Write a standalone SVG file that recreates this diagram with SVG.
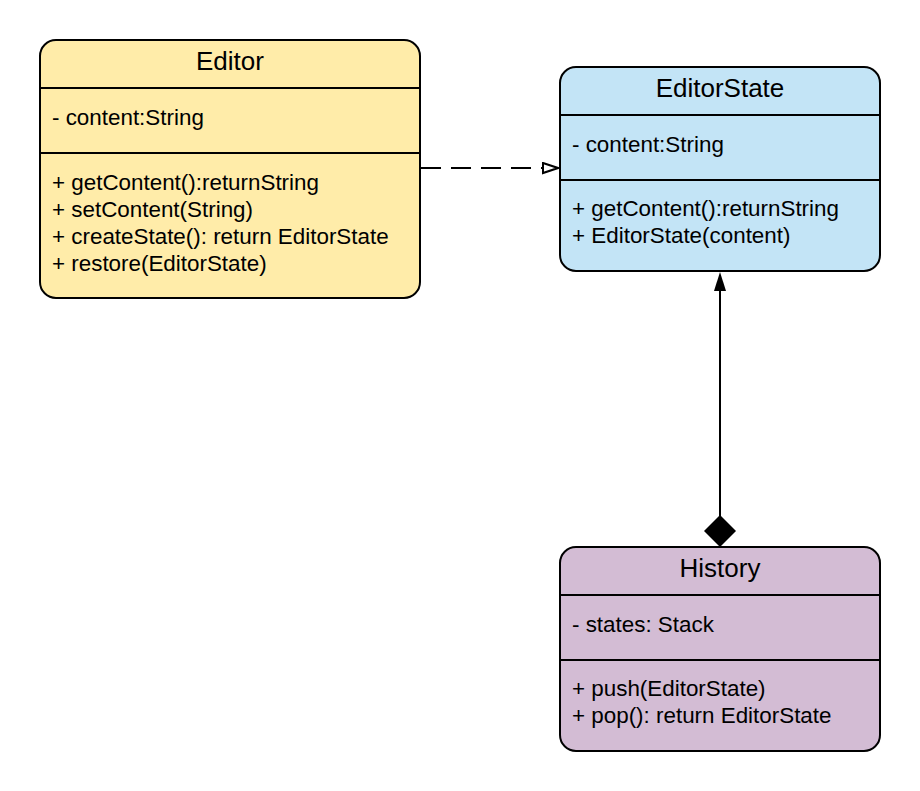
<svg xmlns="http://www.w3.org/2000/svg" width="920" height="791" viewBox="0 0 920 791">
<defs>
<style>
.box{stroke:#000;stroke-width:2}
.div{stroke:#000;stroke-width:2}
.t{font-family:"Liberation Sans",Arial,sans-serif;fill:#000}
.title{font-size:26px;text-anchor:middle}
.b{font-size:22.4px}
.yel{fill:#FFECA9}
.blu{fill:#C3E4F6}
.pur{fill:#D3BCD4}
</style>
<marker id="openTri" markerWidth="18" markerHeight="14" refX="16" refY="6" orient="auto" markerUnits="userSpaceOnUse">
<path d="M1,1 L16,6 L1,11 Z" fill="#fff" stroke="#000" stroke-width="2"/>
</marker>
</defs>
<rect width="920" height="791" fill="#fff"/>
<g id="connectors">
<line x1="421" y1="168" x2="558" y2="168" stroke="#000" stroke-width="2" stroke-dasharray="20 10" marker-end="url(#openTri)"/>
<line x1="720" y1="516" x2="720" y2="290" stroke="#000" stroke-width="2"/>
<path d="M714,291 L720,272 L726,291 Z" fill="#000"/>
<path d="M720,515 L736,531 L720,547 L704,531 Z" fill="#000"/>
</g>
<g id="editor">
<rect class="box yel" x="40" y="40" width="380" height="258" rx="16"/>
<line class="div" x1="40" y1="88" x2="420" y2="88"/>
<line class="div" x1="40" y1="153" x2="420" y2="153"/>
<text class="t title" x="230" y="70">Editor</text>
<text class="t b" x="52" y="125">- content:String</text>
<text class="t b" x="52" y="190">+ getContent():returnString</text>
<text class="t b" x="52" y="217">+ setContent(String)</text>
<text class="t b" x="52" y="244">+ createState(): return EditorState</text>
<text class="t b" x="52" y="271">+ restore(EditorState)</text>
</g>
<g id="editorstate">
<rect class="box blu" x="560" y="67" width="320" height="204" rx="16"/>
<line class="div" x1="560" y1="115" x2="880" y2="115"/>
<line class="div" x1="560" y1="180" x2="880" y2="180"/>
<text class="t title" x="720" y="97">EditorState</text>
<text class="t b" x="572" y="152">- content:String</text>
<text class="t b" x="572" y="216">+ getContent():returnString</text>
<text class="t b" x="572" y="243">+ EditorState(content)</text>
</g>
<g id="history">
<rect class="box pur" x="560" y="547" width="320" height="204" rx="16"/>
<line class="div" x1="560" y1="595" x2="880" y2="595"/>
<line class="div" x1="560" y1="660" x2="880" y2="660"/>
<text class="t title" x="720" y="577">History</text>
<text class="t b" x="572" y="632">- states: Stack</text>
<text class="t b" x="572" y="696">+ push(EditorState)</text>
<text class="t b" x="572" y="723">+ pop(): return EditorState</text>
</g>
</svg>
